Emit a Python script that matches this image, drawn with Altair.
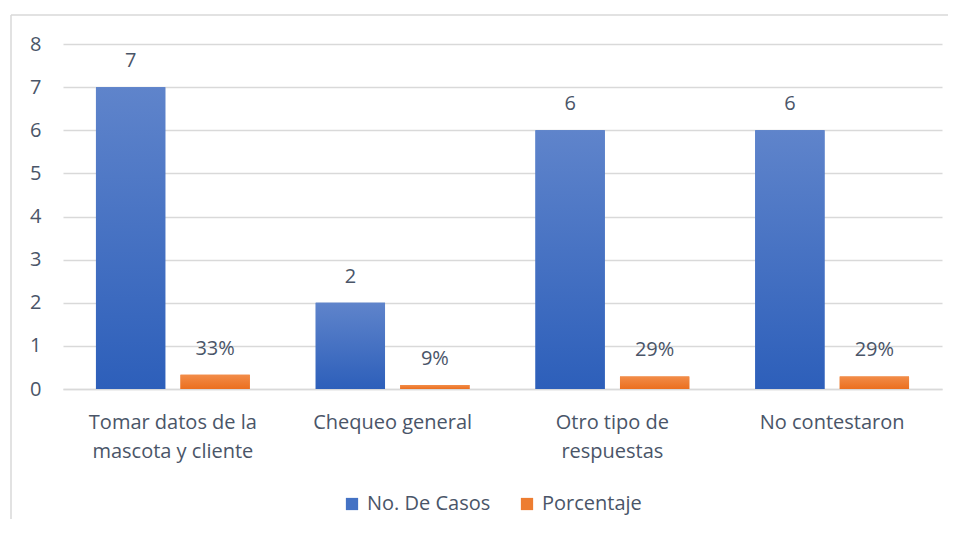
import altair as alt
import pandas as pd

categories = ["Tomar datos de la mascota y cliente", "Chequeo general",
              "Otro tipo de respuestas", "No contestaron"]
casos = [7, 2, 6, 6]
porcentaje = [0.33, 0.09, 0.29, 0.29]
porcentaje_labels = ["33%", "9%", "29%", "29%"]
series = ["No. De Casos", "Porcentaje"]

rows = []
for i, c in enumerate(categories):
    rows.append({"cat": c, "serie": series[0], "valor": casos[i], "label": str(casos[i])})
    rows.append({"cat": c, "serie": series[1], "valor": porcentaje[i], "label": porcentaje_labels[i]})
df = pd.DataFrame(rows)

FONT = "Open Sans"
FS = 20
TXT = "#4a5568"
GRID = "#d9d9d9"

blue_grad = alt.LinearGradient(gradient="linear", x1=0, y1=0, x2=0, y2=1,
                               stops=[alt.GradientStop(color="#5f84cb", offset=0),
                                      alt.GradientStop(color="#2d5fba", offset=1)])
orange_grad = alt.LinearGradient(gradient="linear", x1=0, y1=0, x2=0, y2=1,
                                 stops=[alt.GradientStop(color="#f28c48", offset=0),
                                        alt.GradientStop(color="#eb6f1f", offset=1)])

label_expr = ("datum.label == 'Tomar datos de la mascota y cliente' ? ['Tomar datos de la', 'mascota y cliente'] : "
              "datum.label == 'Otro tipo de respuestas' ? ['Otro tipo de', 'respuestas'] : datum.label")

x_enc = alt.X("cat:N", sort=categories, title=None,
              scale=alt.Scale(paddingInner=0.30, paddingOuter=0.15),
              axis=alt.Axis(labelAngle=0, labelExpr=label_expr, labelFont=FONT, labelFontSize=FS,
                            labelColor=TXT, labelPadding=23, labelLineHeight=29, ticks=False,
                            domainColor=GRID, domainWidth=1.5, labelLimit=300))
xo_enc = alt.XOffset("serie:N", sort=series, scale=alt.Scale(paddingInner=0.18, paddingOuter=0))
y_enc = alt.Y("valor:Q", title=None,
              scale=alt.Scale(domain=[0, 8], nice=False),
              axis=alt.Axis(values=list(range(9)), labelFont=FONT, labelFontSize=FS, labelColor=TXT,
                            labelPadding=22, ticks=False, domain=False, gridColor=GRID, gridWidth=1.5))

base = alt.Chart(df)

bars = base.mark_bar().encode(
    x=x_enc, xOffset=xo_enc, y=y_enc,
    color=alt.Color("serie:N", sort=series, title=None,
                    scale=alt.Scale(domain=series, range=["#4472c4", "#ed7d31"]),
                    legend=alt.Legend(orient="none", legendX=279, legendY=450,
                                      direction="horizontal", symbolType="square",
                                      symbolSize=150, labelFont=FONT, labelFontSize=FS, labelColor=TXT,
                                      labelOffset=5, columnPadding=26, symbolStrokeWidth=0))
)

grad_bars = base.mark_bar().encode(
    x=x_enc, xOffset=xo_enc, y=y_enc,
    fill=alt.condition(alt.datum.serie == "No. De Casos", alt.value(blue_grad), alt.value(orange_grad))
)

texts = base.mark_text(baseline="middle", dy=-26, font=FONT, fontSize=FS, color=TXT).encode(
    x=x_enc, xOffset=xo_enc, y=y_enc, text="label:N"
)

frame_df = pd.DataFrame({"k": [0]})
frame_top = alt.Chart(frame_df).mark_rule(stroke="#d9d9d9", strokeWidth=1.5).encode(
    x=alt.value(-52), x2=alt.value(1000), y=alt.value(-29)
)
frame_left = alt.Chart(frame_df).mark_rule(stroke="#d9d9d9", strokeWidth=1.5).encode(
    x=alt.value(-52), y=alt.value(-29), y2=alt.value(600)
)

chart = alt.layer(frame_top, frame_left, bars, grad_bars, texts).properties(
    width=879, height=345,
    autosize=alt.AutoSizeParams(type="none"),
    padding={"left": 55, "top": 36, "right": 6, "bottom": 130}
).configure_view(stroke=None)

chart.save("out.html", embed_options={"renderer": "svg", "actions": False})
